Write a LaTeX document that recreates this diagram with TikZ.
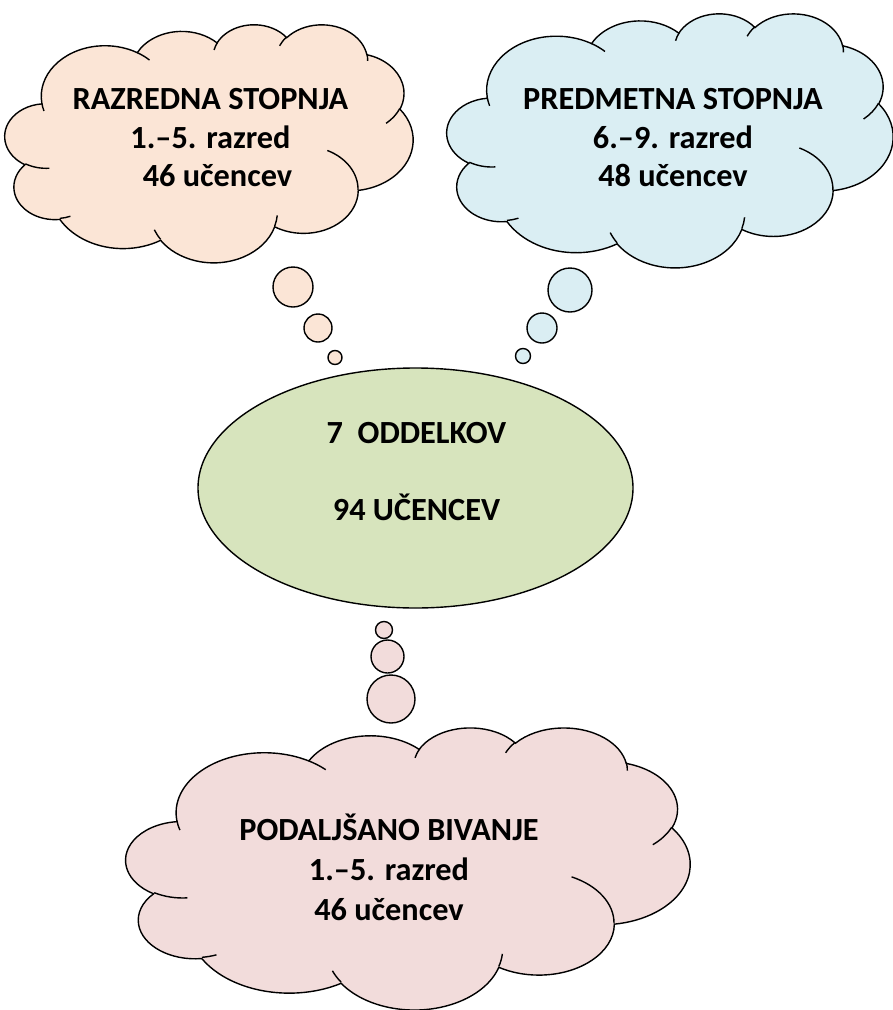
\documentclass[tikz,border=0pt]{standalone}
\usepackage{fontspec}
\setmainfont{Carlito}
\usetikzlibrary{shapes.geometric}
\definecolor{peach}{HTML}{FBE5D6}
\definecolor{skyblue}{HTML}{DAEEF3}
\definecolor{olivegreen}{HTML}{D7E4BD}
\definecolor{rosepink}{HTML}{F2DCDB}
% --- cloud outline (OOXML cloud geometry, 432 x 432 units) ---
\newcommand\cloudmain{}
\newcommand\cloudinner{}
\newcommand\cloudarcvals[4]{%
  \edef\cA{\fpeval{(#3)/60000}}%
  \edef\cB{\fpeval{(#3+#4)/60000}}%
  \edef\tA{\fpeval{round(atand(#1*sind(\cA),#2*cosd(\cA)),4)}}%
  \edef\tB{\fpeval{round(atand(#1*sind(\cB),#2*cosd(\cB)),4)}}%
  \edef\dT{\fpeval{round(\tB-\tA-360*floor((\tB-\tA)/360),4)}}%
  \edef\rX{\fpeval{#1/100}}%
  \edef\rY{\fpeval{#2/100}}%
}
\newcommand\addmainarc[4]{\cloudarcvals{#1}{#2}{#3}{#4}%
  \xdef\cloudmain{\cloudmain arc[start angle=\tA,delta angle=\dT,x radius=\rX pt,y radius=\rY pt]}}
\newcommand\addinnerarc[6]{\cloudarcvals{#3}{#4}{#5}{#6}%
  \xdef\cloudinner{\cloudinner (\fpeval{#1/100}pt,\fpeval{#2/100}pt) arc[start angle=\tA,delta angle=\dT,x radius=\rX pt,y radius=\rY pt]}}
\addmainarc{6753}{9190}{-11429249}{7426832}
\addmainarc{5333}{7267}{-8646143}{5396714}
\addmainarc{4365}{5945}{-8748475}{5983381}
\addmainarc{4857}{6595}{-7859164}{7034504}
\addmainarc{5333}{7273}{-4722533}{6541615}
\addmainarc{6775}{9220}{-2776035}{7816140}
\addmainarc{5785}{7867}{37501}{6842000}
\addmainarc{6752}{9215}{1347096}{6910353}
\addmainarc{7720}{10543}{3974558}{4542661}
\addmainarc{4360}{5918}{-16496525}{8804134}
\addmainarc{4345}{5945}{-14809710}{9151131}
\addinnerarc{4693}{26177}{4345}{5945}{5204520}{1585770}
\addinnerarc{6928}{34899}{4360}{5918}{4416628}{686848}
\addinnerarc{16478}{39090}{6752}{9215}{8257449}{844866}
\addinnerarc{28827}{34751}{6752}{9215}{387196}{959901}
\addinnerarc{34129}{22954}{5785}{7867}{-4217541}{4255042}
\addinnerarc{41798}{15354}{5333}{7273}{1819082}{1665090}
\addinnerarc{38324}{5426}{4857}{6595}{-824660}{891534}
\addinnerarc{29078}{3952}{4857}{6595}{-8950887}{1091722}
\addinnerarc{22141}{4720}{4365}{5945}{-9809656}{1061181}
\addinnerarc{14000}{5192}{6753}{9190}{-4002417}{739161}
\addinnerarc{4127}{15789}{6753}{9190}{9459261}{711490}
\tikzset{
  outline/.style={draw=black, line width=1.4pt},
  bubble/.style={outline, circle, inner sep=0pt},
  lbl/.style={align=center, inner sep=0pt, text=black,
    font=\fontsize{32.3}{38.5}\selectfont\bfseries},
  lblwide/.style={lbl, font=\fontsize{32.3}{40}\selectfont\bfseries},
}
\newcommand\drawcloud[5]{% x0 y0 W H colour
  \begin{scope}[shift={(#1,#2)}, xscale=#3/432, yscale=-#4/432]
    \path[outline, fill=#5] (39pt,143.7pt) \cloudmain -- cycle;
    \path[outline] \cloudinner;
  \end{scope}}
\begin{document}
\begin{tikzpicture}[x=1pt, y=-1pt]
\useasboundingbox (0,0) rectangle (893,1010);
% upper left thought
\drawcloud{5}{24}{408}{238}{peach}
\node[bubble, fill=peach, minimum size=40pt] (pb1) at (293,287) {};
\node[bubble, fill=peach, minimum size=28pt] (pb2) at (318,328) {};
\node[bubble, fill=peach, minimum size=14pt] (pb3) at (335,357.5) {};
\node[lbl] (t1) at (210.5,138) {RAZREDNA STOPNJA\\1.–5. razred\\\hspace*{14pt}46 učencev};
% upper right thought
\drawcloud{447}{13}{446}{254}{skyblue}
\node[bubble, fill=skyblue, minimum size=44pt] (bb1) at (570,290) {};
\node[bubble, fill=skyblue, minimum size=30pt] (bb2) at (542,328) {};
\node[bubble, fill=skyblue, minimum size=15pt] (bb3) at (523,356) {};
\node[lbl] (t2) at (673,138) {PREDMETNA STOPNJA\\6.–9. razred\\48 učencev};
% centre
\node[outline, ellipse, fill=olivegreen, minimum width=435pt, minimum height=240pt, inner sep=0pt] (mid) at (415.5,488) {};
\node[lbl] (t3) at (416.5,471.5) {7\ \ ODDELKOV\\[38.5pt]94 UČENCEV};
% bottom thought
\node[bubble, fill=rosepink, minimum size=17pt] (rb1) at (384,630) {};
\node[bubble, fill=rosepink, minimum size=33pt] (rb2) at (387.5,656.5) {};
\node[bubble, fill=rosepink, minimum size=48pt] (rb3) at (391,699) {};
\drawcloud{126}{727}{564}{282}{rosepink}
\node[lblwide] (t4) at (389,867) {PODALJŠANO BIVANJE\\1.–5. razred\\46 učencev};
\end{tikzpicture}
\end{document}
